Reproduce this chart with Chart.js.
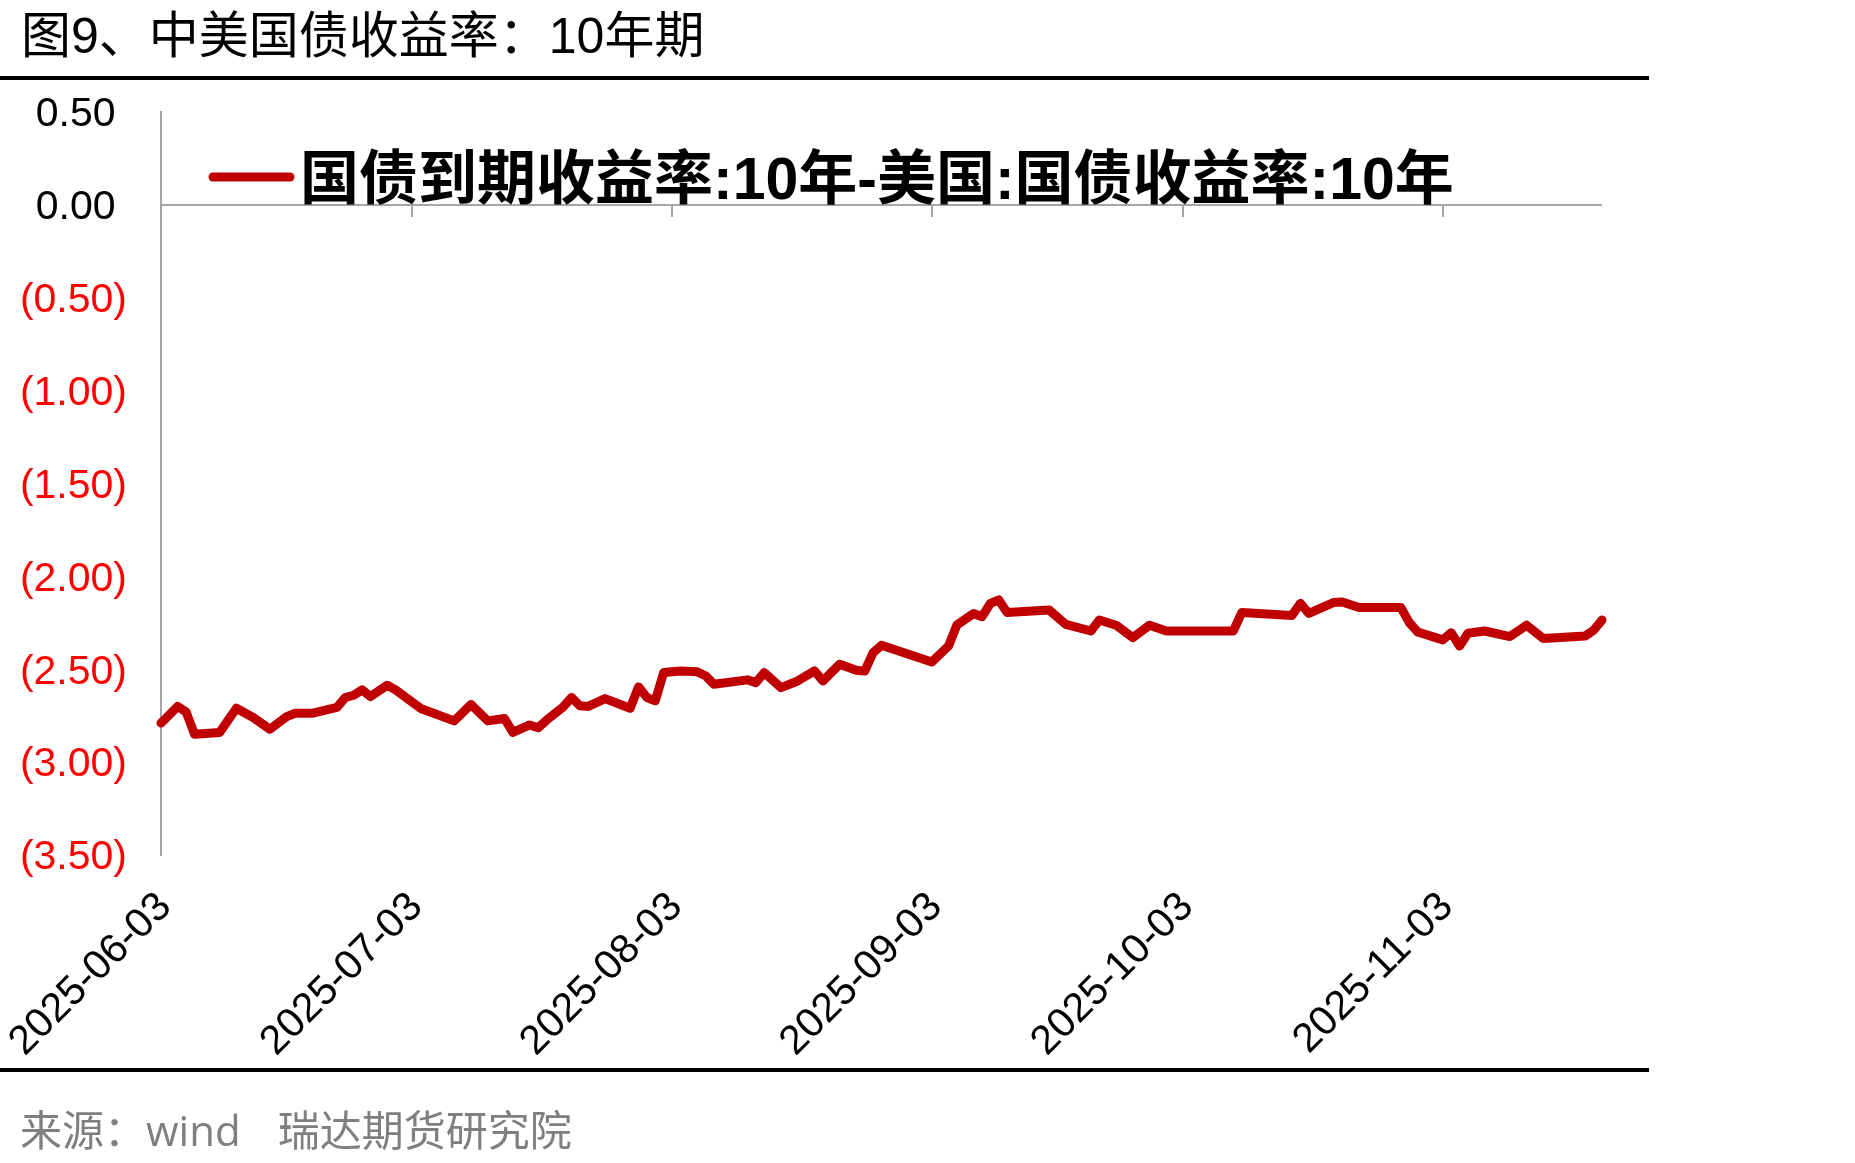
<!DOCTYPE html>
<html lang="zh-CN">
<head>
<meta charset="utf-8">
<title>中美国债收益率：10年期</title>
<script src="https://cdn.jsdelivr.net/npm/chart.js@4.4.1/dist/chart.umd.min.js"></script>
<style>
  html, body { margin: 0; padding: 0; background: #fff; }
  body {
    width: 1855px; height: 1163px; position: relative; overflow: hidden;
    font-family: "Liberation Sans", "Noto Sans CJK SC", sans-serif;
  }
  #grafico-box { position: absolute; left: 0; top: 0; width: 1855px; height: 1163px; }
  #titulo {
    position: absolute; left: 21px; top: 6px;
    font-size: 50px; line-height: 60px; color: #000; white-space: nowrap;
  }
  .regua { position: absolute; left: 0; width: 1649px; height: 4px; background: #000; }
  #fonte {
    position: absolute; left: 20px; top: 1105px;
    font-size: 42px; line-height: 50px; color: #7f7f7f; white-space: pre;
  }
  #fonte .latino { font-family: "Open Sans", "Liberation Sans", sans-serif; }
  #fonte .espaco { display: inline-block; width: 37px; }
</style>
</head>
<body>
<div id="grafico-box"><canvas id="graficoSpread"></canvas></div>
<div id="titulo">图9、中美国债收益率：10年期</div>
<div class="regua" style="top:76px"></div>
<div class="regua" style="top:1068px"></div>
<div id="fonte">来源：<span class="latino">wind</span><span class="espaco"></span>瑞达期货研究院</div>

<script>
// dados (spread 10 anos China - EUA, em %)
const serieNome = '国债到期收益率:10年-美国:国债收益率:10年';

const datas = [
  '2025-06-03', '2025-06-05', '2025-06-06', '2025-06-07', '2025-06-10', '2025-06-12',
  '2025-06-14', '2025-06-16', '2025-06-18', '2025-06-19', '2025-06-21', '2025-06-24',
  '2025-06-25', '2025-06-26', '2025-06-27', '2025-06-28', '2025-06-30', '2025-07-01',
  '2025-07-04', '2025-07-08', '2025-07-10', '2025-07-12', '2025-07-14', '2025-07-15',
  '2025-07-17', '2025-07-18', '2025-07-19', '2025-07-21', '2025-07-22', '2025-07-23',
  '2025-07-24', '2025-07-26', '2025-07-29', '2025-07-30', '2025-07-31', '2025-08-01',
  '2025-08-02', '2025-08-04', '2025-08-06', '2025-08-07', '2025-08-08', '2025-08-12',
  '2025-08-13', '2025-08-14', '2025-08-16', '2025-08-18', '2025-08-20', '2025-08-21',
  '2025-08-23', '2025-08-25', '2025-08-26', '2025-08-27', '2025-08-28', '2025-09-03',
  '2025-09-05', '2025-09-06', '2025-09-08', '2025-09-09', '2025-09-10', '2025-09-11',
  '2025-09-12', '2025-09-17', '2025-09-19', '2025-09-22', '2025-09-23', '2025-09-25',
  '2025-09-27', '2025-09-29', '2025-10-01', '2025-10-09', '2025-10-10', '2025-10-16',
  '2025-10-17', '2025-10-18', '2025-10-21', '2025-10-22', '2025-10-24', '2025-10-29',
  '2025-10-30', '2025-10-31', '2025-11-03', '2025-11-04', '2025-11-05', '2025-11-06',
  '2025-11-08', '2025-11-11', '2025-11-13', '2025-11-15', '2025-11-20', '2025-11-21',
  '2025-11-22'
];

const valores = [
  -2.79, -2.70, -2.73, -2.85, -2.84, -2.71,
  -2.76, -2.823, -2.755, -2.737, -2.737, -2.705,
  -2.652, -2.64, -2.611, -2.647, -2.586, -2.611,
  -2.711, -2.778, -2.69, -2.778, -2.765, -2.84,
  -2.80, -2.815, -2.775, -2.703, -2.652, -2.697,
  -2.70, -2.658, -2.71, -2.595, -2.652, -2.67,
  -2.518, -2.509, -2.514, -2.535, -2.581, -2.557,
  -2.572, -2.518, -2.599, -2.563, -2.509, -2.563,
  -2.473, -2.505, -2.51, -2.41, -2.371, -2.461,
  -2.375, -2.262, -2.20, -2.217, -2.145, -2.127,
  -2.195, -2.181, -2.258, -2.294, -2.235, -2.263,
  -2.33, -2.263, -2.294, -2.294, -2.195, -2.21,
  -2.145, -2.199, -2.14, -2.138, -2.168, -2.168,
  -2.249, -2.299, -2.342, -2.303, -2.375, -2.306,
  -2.294, -2.324, -2.263, -2.335, -2.321, -2.29,
  -2.235
];

// rótulos do eixo x e marcas do eixo y
const marcasX = ['2025-06-03', '2025-07-03', '2025-08-03', '2025-09-03', '2025-10-03', '2025-11-03'];
const marcasY = [0.5, 0, -0.5, -1, -1.5, -2, -2.5, -3, -3.5];

// converte data em dias desde o início (eixo linear de calendário)
const DIA = 86400000;
const inicio = Date.parse(datas[0]);
const diaDe = d => (Date.parse(d) - inicio) / DIA;
const pontos = datas.map((d, i) => ({ x: diaDe(d), y: valores[i] }));

const FONTE = '"Liberation Sans", "Noto Sans CJK SC", sans-serif';

// linha do zero com as marquinhas das datas
const linhaZero = {
  id: 'linhaZero',
  beforeDatasetsDraw(chart) {
    const { ctx, chartArea, scales: { x, y } } = chart;
    const y0 = Math.round(y.getPixelForValue(0));
    ctx.save();
    ctx.strokeStyle = '#a6a6a6';
    ctx.lineWidth = 2;
    ctx.beginPath();
    ctx.moveTo(chartArea.left, y0);
    ctx.lineTo(chartArea.right, y0);
    x.ticks.forEach(t => {
      const px = Math.round(x.getPixelForValue(t.value));
      ctx.moveTo(px, y0);
      ctx.lineTo(px, y0 + 12);
    });
    ctx.stroke();
    ctx.restore();
  }
};

// legenda desenhada dentro da área do gráfico
const legendaInterna = {
  id: 'legendaInterna',
  afterDraw(chart) {
    const { ctx, chartArea } = chart;
    const ds = chart.data.datasets[0];
    const yLinha = chartArea.top + 65;
    ctx.save();
    ctx.strokeStyle = ds.borderColor;
    ctx.lineWidth = 9;
    ctx.lineCap = 'round';
    ctx.beginPath();
    ctx.moveTo(chartArea.left + 52, yLinha);
    ctx.lineTo(chartArea.left + 129, yLinha);
    ctx.stroke();
    ctx.fillStyle = '#000';
    ctx.font = 'bold 59px ' + FONTE;
    ctx.textBaseline = 'alphabetic';
    ctx.textAlign = 'left';
    ctx.fillText(ds.label, chartArea.left + 139, chartArea.top + 87);
    ctx.restore();
  }
};

const graficoSpread = new Chart(document.getElementById('graficoSpread'), {
  type: 'line',
  data: {
    datasets: [{
      label: serieNome,
      data: pontos,
      borderColor: '#c00000',
      backgroundColor: '#c00000',
      borderWidth: 9,
      borderJoinStyle: 'round',
      borderCapStyle: 'round',
      pointRadius: 0,
      tension: 0,
      clip: 10
    }]
  },
  options: {
    responsive: true,
    maintainAspectRatio: false,
    animation: false,
    events: [],
    layout: { padding: { top: 112, right: 253, left: 0, bottom: 0 } },
    plugins: {
      legend: { display: false },
      tooltip: { enabled: false },
      title: { display: false }
    },
    scales: {
      x: {
        type: 'linear',
        min: 0,
        max: diaDe(datas[datas.length - 1]),
        grid: { display: false, drawTicks: false },
        border: { display: false },
        afterBuildTicks: scale => {
          scale.ticks = marcasX.map(d => ({ value: diaDe(d) }));
        },
        afterFit: scale => {
          scale.height = 308;
          // o primeiro rótulo inclinado cabe na margem, não empurrar a área do gráfico
          scale.paddingLeft = 0;
          scale.paddingRight = 0;
        },
        ticks: {
          autoSkip: false,
          minRotation: 45,
          maxRotation: 45,
          padding: 28,
          labelOffset: 4,
          color: '#000',
          font: { family: FONTE, size: 41 },
          callback: (value, index) => marcasX[index]
        }
      },
      y: {
        min: -3.5,
        max: 0.5,
        grid: { display: false, drawTicks: false },
        border: { display: true, color: '#a6a6a6', width: 2 },
        afterBuildTicks: scale => {
          scale.ticks = marcasY.map(v => ({ value: v }));
        },
        afterFit: scale => {
          scale.width = 161;
          scale.paddingTop = 0;
          scale.paddingBottom = 0;
        },
        ticks: {
          padding: 34,
          labelOffset: 3,
          color: ctx => (ctx.tick && ctx.tick.value < 0 ? '#ff0000' : '#000'),
          font: { family: FONTE, size: 41 },
          callback: v => (v < 0 ? '(' + Math.abs(v).toFixed(2) + ')' : v.toFixed(2) + ' ')
        }
      }
    }
  },
  plugins: [linhaZero, legendaInterna]
});
</script>
</body>
</html>
